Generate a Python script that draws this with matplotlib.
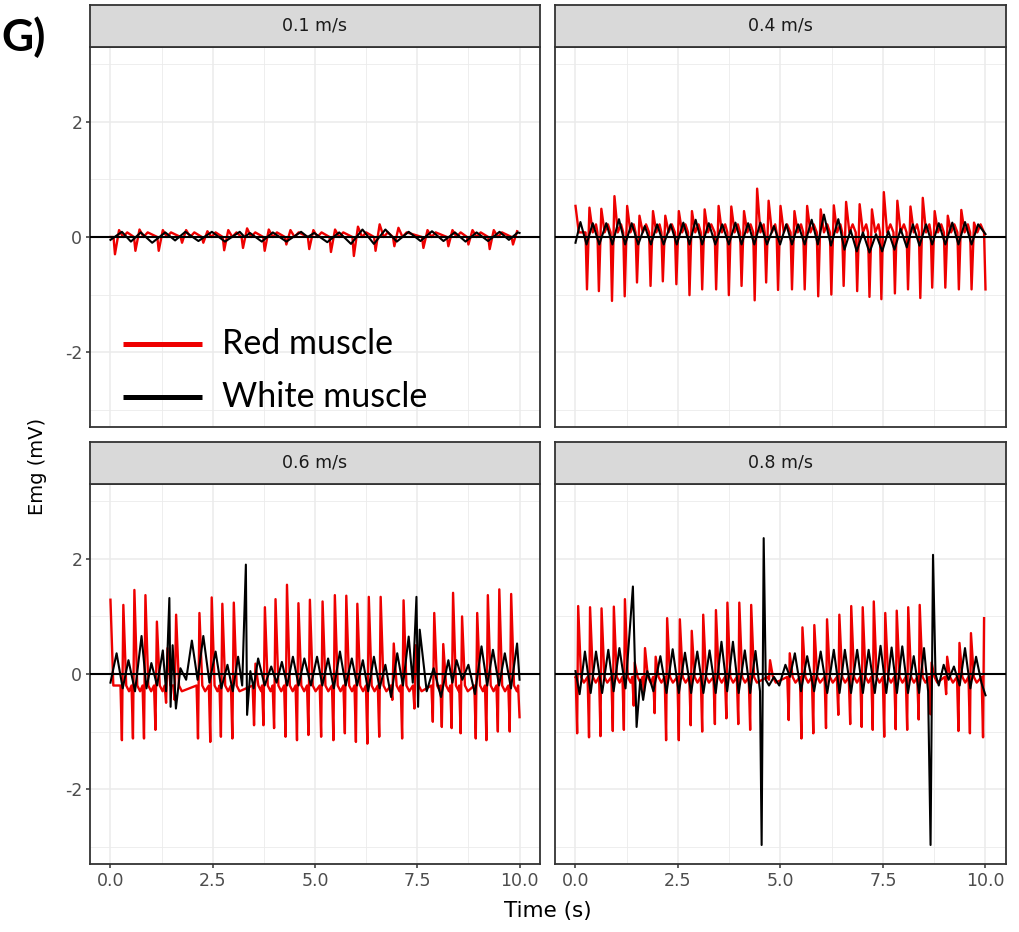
import numpy as np
import matplotlib
matplotlib.use("Agg")
import matplotlib.pyplot as plt
from matplotlib.lines import Line2D
from matplotlib.ticker import FixedLocator

# ---------------------------------------------------------------- data ----
speeds = ["0.1 m/s", "0.4 m/s", "0.6 m/s", "0.8 m/s"]
series_labels = ["Red muscle", "White muscle"]
series_colors = ["#EE0000", "#000000"]
x_ticks = [0.0, 2.5, 5.0, 7.5, 10.0]
x_tick_labels = ["0.0", "2.5", "5.0", "7.5", "10.0"]
y_ticks = [-2, 0, 2]
y_tick_labels = ["-2", "0", "2"]

# Red muscle: burst onset times (s), burst minimum and maximum (mV)
red_01_t = [0.11, 0.61, 1.18, 1.75, 2.27, 2.78, 3.24, 3.77, 4.30, 4.86,
            5.39, 5.95, 6.48, 6.94, 7.65, 8.26, 8.75, 9.27, 9.84]
red_01_lo = [-0.30, -0.24, -0.24, -0.10, -0.10, -0.23, -0.19, -0.24, -0.13, -0.21,
             -0.26, -0.33, -0.24, -0.16, -0.19, -0.16, -0.13, -0.21, -0.13]
red_01_hi = [0.12, 0.13, 0.12, 0.12, 0.10, 0.12, 0.15, 0.13, 0.12, 0.12,
             0.13, 0.18, 0.22, 0.16, 0.12, 0.12, 0.12, 0.12, 0.10]

red_04_t = [0.28, 0.57, 0.89, 1.20, 1.50, 1.83, 2.13, 2.46, 2.78, 3.09,
            3.43, 3.74, 4.05, 4.37, 4.65, 4.94, 5.28, 5.59, 5.92, 6.24,
            6.54, 6.87, 7.17, 7.46, 7.79, 8.11, 8.41, 8.70, 9.02, 9.35, 9.66]
red_04_lo = [-0.91, -0.94, -1.11, -1.03, -0.79, -0.85, -0.77, -0.82, -1.01, -0.91,
             -0.91, -1.01, -0.85, -1.10, -0.79, -0.92, -0.91, -0.91, -1.03, -1.00,
             -0.85, -0.94, -1.04, -1.08, -0.98, -0.91, -1.06, -0.88, -0.88, -0.91, -0.91]
red_04_hi = [0.51, 0.49, 0.71, 0.54, 0.37, 0.45, 0.37, 0.45, 0.45, 0.48,
             0.54, 0.53, 0.45, 0.84, 0.63, 0.54, 0.45, 0.54, 0.48, 0.55,
             0.61, 0.57, 0.48, 0.78, 0.63, 0.53, 0.68, 0.45, 0.37, 0.47, 0.25]

red_06_t = [0.28, 0.55, 0.82, 1.10, 1.36, 1.57, 2.14, 2.44, 2.70, 2.98,
            3.51, 3.74, 4.00, 4.28, 4.56, 4.84, 5.15, 5.45, 5.73, 6.00,
            6.28, 6.57, 6.89, 7.13, 7.43, 7.88, 8.10, 8.34, 8.56, 8.93,
            9.19, 9.47, 9.76]
red_06_lo = [-1.15, -1.12, -1.12, -0.97, -0.50, -0.45, -1.12, -1.18, -1.09, -1.12,
             -0.89, -0.89, -0.94, -1.09, -1.15, -1.06, -1.09, -1.15, -1.03, -1.18,
             -1.21, -1.09, -0.45, -1.12, -0.60, -0.83, -0.92, -0.94, -1.03, -1.12,
             -1.15, -1.00, -1.00]
red_06_hi = [1.20, 1.46, 1.37, 0.91, 0.45, 1.03, 1.06, 1.33, 1.22, 1.24,
             0.18, 1.16, 1.30, 1.55, 1.23, 1.29, 1.26, 1.37, 1.36, 1.22,
             1.34, 1.34, 0.53, 1.28, 0.50, 1.06, 0.52, 1.41, 1.00, 1.06,
             1.37, 1.47, 1.39]

red_08_t = [0.04, 0.33, 0.61, 0.91, 1.18, 1.42, 1.67, 1.93, 2.21, 2.52,
            2.81, 3.09, 3.40, 3.68, 3.97, 4.26, 4.72, 5.20, 5.51, 5.80,
            6.11, 6.41, 6.70, 6.98, 7.25, 7.53, 7.81, 8.09, 8.37, 8.66,
            9.04, 9.34, 9.62, 9.94]
red_08_lo = [-1.03, -1.10, -1.08, -0.99, -0.97, -0.55, -0.30, -0.68, -1.15, -1.15,
             -0.89, -1.00, -0.87, -0.77, -0.87, -0.97, -0.10, -0.80, -1.12, -1.03,
             -0.94, -0.71, -0.87, -0.92, -0.97, -1.09, -0.96, -0.97, -0.79, -0.70,
             -0.35, -0.99, -1.03, -1.10]
red_08_hi = [1.18, 1.16, 1.14, 1.17, 1.30, 0.20, 0.45, 0.30, 0.97, 0.95,
             0.75, 1.03, 1.11, 1.24, 1.24, 1.20, 0.24, 0.36, 0.81, 0.85,
             0.95, 1.03, 1.18, 1.16, 1.26, 1.06, 1.10, 1.16, 1.20, 0.20,
             0.30, 0.54, 0.71, 0.97]

# Red muscle: value at start / end of record and resting levels between bursts (mV)
red_start = [0.00, 0.54, 1.29, -0.05]
red_end = [None, -0.91, -0.75, None]
red_base = [0.00, 0.08, -0.20, -0.05]
red_ripple = [0.08, 0.22, -0.30, -0.15]

# White muscle: turning points of the trace (time s, value mV)
white_01_t = [0.00, 0.28, 0.50, 0.74, 1.02, 1.34, 1.58, 1.83, 2.15, 2.48,
              2.80, 3.16, 3.28, 3.41, 3.70, 3.97, 4.30, 4.66, 4.82, 4.98,
              5.30, 5.59, 5.88, 6.16, 6.44, 6.72, 7.00, 7.29, 7.58, 7.86,
              8.14, 8.42, 8.68, 8.95, 9.23, 9.51, 9.74, 9.96, 10.00]
white_01_v = [-0.05, 0.09, -0.08, 0.08, -0.10, 0.08, -0.06, 0.09, -0.07, 0.09,
              -0.08, 0.09, 0.00, 0.07, -0.08, 0.08, -0.08, 0.09, 0.00, 0.07,
              -0.09, 0.08, -0.12, 0.13, -0.12, 0.13, -0.08, 0.09, -0.07, 0.10,
              -0.07, 0.08, -0.08, 0.08, -0.07, 0.09, -0.05, 0.08, 0.07]

white_04_t = [0.00, 0.12, 0.27, 0.42, 0.58, 0.75, 0.90, 1.06, 1.21, 1.37,
              1.53, 1.69, 1.84, 1.99, 2.15, 2.32, 2.47, 2.63, 2.78, 2.93,
              3.09, 3.25, 3.41, 3.58, 3.74, 3.90, 4.05, 4.21, 4.36, 4.51,
              4.67, 4.84, 4.99, 5.14, 5.28, 5.43, 5.59, 5.76, 5.91, 6.06,
              6.23, 6.41, 6.56, 6.71, 6.86, 7.01, 7.17, 7.33, 7.48, 7.63,
              7.78, 7.93, 8.08, 8.23, 8.39, 8.55, 8.70, 8.86, 9.02, 9.19,
              9.34, 9.50, 9.66, 9.82, 10.00]
white_04_v = [-0.10, 0.26, -0.13, 0.24, -0.13, 0.24, -0.13, 0.31, -0.13, 0.24,
              -0.13, 0.19, -0.13, 0.22, -0.13, 0.22, -0.13, 0.25, -0.13, 0.30,
              -0.13, 0.24, -0.13, 0.22, -0.13, 0.25, -0.13, 0.24, -0.13, 0.25,
              -0.13, 0.19, -0.13, 0.22, -0.13, 0.22, -0.13, 0.30, -0.13, 0.39,
              -0.15, 0.31, -0.22, 0.12, -0.25, 0.08, -0.27, 0.05, -0.25, 0.10,
              -0.22, 0.14, -0.18, 0.22, -0.15, 0.22, -0.13, 0.24, -0.13, 0.25,
              -0.13, 0.26, -0.13, 0.22, 0.05]

white_06_t = [0.00, 0.15, 0.30, 0.44, 0.60, 0.76, 0.88, 1.00, 1.14, 1.28,
              1.36, 1.44, 1.47, 1.52, 1.60, 1.71, 1.85, 1.99, 2.13, 2.27,
              2.42, 2.57, 2.71, 2.86, 2.99, 3.12, 3.22, 3.31, 3.34, 3.42,
              3.50, 3.61, 3.77, 3.93, 4.06, 4.19, 4.32, 4.46, 4.60, 4.74,
              4.90, 5.05, 5.18, 5.32, 5.46, 5.61, 5.75, 5.90, 6.03, 6.17,
              6.30, 6.44, 6.58, 6.72, 6.86, 7.01, 7.15, 7.29, 7.39, 7.48,
              7.52, 7.56, 7.73, 7.90, 8.08, 8.26, 8.36, 8.46, 8.60, 8.75,
              8.91, 9.07, 9.21, 9.35, 9.50, 9.64, 9.79, 9.94, 10.00]
white_06_v = [-0.15, 0.36, -0.25, 0.24, -0.30, 0.66, -0.25, 0.19, -0.20, 0.41,
              -0.30, 1.32, -0.57, 0.50, -0.60, 0.10, -0.10, 0.58, -0.10, 0.66,
              -0.15, 0.39, -0.25, 0.16, -0.30, 0.30, -0.20, 1.90, -0.71, 0.05,
              -0.25, 0.27, -0.20, 0.13, -0.15, 0.21, -0.20, 0.30, -0.20, 0.27,
              -0.20, 0.30, -0.20, 0.27, -0.25, 0.39, -0.20, 0.27, -0.20, 0.24,
              -0.30, 0.30, -0.25, 0.16, -0.40, 0.36, -0.20, 0.65, -0.15, 1.34,
              -0.57, 0.77, -0.30, 0.10, -0.40, 0.24, -0.15, 0.24, -0.10, 0.16,
              -0.35, 0.48, -0.20, 0.42, -0.20, 0.36, -0.25, 0.53, -0.10]

white_08_t = [0.00, 0.10, 0.23, 0.37, 0.50, 0.65, 0.80, 0.93, 1.07, 1.22,
              1.40, 1.49, 1.58, 1.65, 1.75, 1.90, 2.07, 2.22, 2.37, 2.52,
              2.67, 2.82, 2.97, 3.12, 3.27, 3.42, 3.56, 3.70, 3.84, 3.98,
              4.13, 4.26, 4.39, 4.50, 4.54, 4.59, 4.64, 4.72, 4.84, 4.97,
              5.12, 5.23, 5.35, 5.50, 5.65, 5.82, 5.98, 6.14, 6.30, 6.44,
              6.57, 6.72, 6.87, 7.01, 7.15, 7.30, 7.44, 7.58, 7.71, 7.84,
              7.97, 8.11, 8.25, 8.38, 8.50, 8.60, 8.66, 8.72, 8.78, 8.86,
              8.98, 9.10, 9.23, 9.37, 9.50, 9.63, 9.77, 9.90, 10.00]
white_08_v = [0.05, -0.35, 0.39, -0.33, 0.39, -0.33, 0.42, -0.30, 0.45, -0.25,
              1.52, -0.92, -0.10, -0.45, 0.05, -0.30, 0.31, -0.33, 0.43, -0.33,
              0.37, -0.33, 0.39, -0.33, 0.41, -0.33, 0.56, -0.30, 0.56, -0.33,
              0.41, -0.33, 0.40, -0.30, -2.97, 2.36, -0.10, -0.20, -0.05, -0.20,
              0.16, -0.05, 0.36, -0.30, 0.31, -0.30, 0.39, -0.33, 0.42, -0.33,
              0.42, -0.33, 0.42, -0.33, 0.42, -0.33, 0.49, -0.33, 0.46, -0.33,
              0.48, -0.33, 0.31, -0.33, 0.45, -0.30, -2.97, 2.07, 0.00, -0.20,
              0.16, -0.10, 0.13, -0.20, 0.45, -0.25, 0.30, -0.15, -0.37]

red_t = [red_01_t, red_04_t, red_06_t, red_08_t]
red_lo = [red_01_lo, red_04_lo, red_06_lo, red_08_lo]
red_hi = [red_01_hi, red_04_hi, red_06_hi, red_08_hi]
white_t = [white_01_t, white_04_t, white_06_t, white_08_t]
white_v = [white_01_v, white_04_v, white_06_v, white_08_v]

# burst waveform timing per panel (s): lead-in, rise to maximum, decay
burst_pre = 0.035
burst_rise = [0.10, 0.06, 0.035, 0.025]
burst_fall = [0.10, 0.08, 0.07, 0.07]


def red_trace(k):
    """Polyline of the red-muscle record of panel k built from its bursts."""
    ts, vs = [0.0], [red_start[k]]
    onsets = red_t[k]
    rise, fall = burst_rise[k], burst_fall[k]
    if fall < onsets[0] - burst_pre:
        ts.append(fall)
        vs.append(red_base[k])
    for i, (t, lo, hi) in enumerate(zip(onsets, red_lo[k], red_hi[k])):
        nxt = onsets[i + 1] - burst_pre if i + 1 < len(onsets) else 10.0
        seg_t = [t - burst_pre, t, t + rise, t + rise + fall, t + rise + 2 * fall]
        seg_v = [red_base[k], lo, hi, red_base[k], red_ripple[k]]
        for j, (st, sv) in enumerate(zip(seg_t, seg_v)):
            if st <= ts[-1] or st > 10.0:
                continue
            if j >= 3 and st >= nxt:
                continue
            ts.append(st)
            vs.append(sv)
    if red_end[k] is not None:
        if 10.0 - burst_pre > ts[-1]:
            ts.append(10.0 - burst_pre)
            vs.append(red_base[k])
        ts.append(10.0)
        vs.append(red_end[k])
    return np.array(ts), np.array(vs)


# -------------------------------------------------------------- figure ----
plt.rcParams["font.family"] = ["DejaVu Sans"]
plt.rcParams["axes.unicode_minus"] = False

W, H = 1020, 932
fig = plt.figure(figsize=(W / 100, H / 100), dpi=100)
fig.patch.set_facecolor("white")


def box(x0, y0, x1, y1):
    return [x0 / W, 1 - y1 / H, (x1 - x0) / W, (y1 - y0) / H]


cols = [(90, 540), (555, 1006)]
rows = [((5, 47), (47, 427)), ((442, 484), (484, 864))]
frame_col = "#333333"

for k, label in enumerate(speeds):
    r, c = divmod(k, 2)
    (sx0, sx1) = cols[c]
    (st0, st1), (py0, py1) = rows[r]

    ax = fig.add_axes(box(sx0, py0, sx1, py1))
    ax.set_xlim(-0.5, 10.5)
    ax.set_ylim(-3.3, 3.3)
    ax.xaxis.set_major_locator(FixedLocator(x_ticks))
    ax.xaxis.set_minor_locator(FixedLocator([1.25, 3.75, 6.25, 8.75]))
    ax.yaxis.set_major_locator(FixedLocator(y_ticks))
    ax.yaxis.set_minor_locator(FixedLocator([-3, -1, 1, 3]))
    ax.grid(which="major", color="#EBEBEB", lw=1.1)
    ax.grid(which="minor", color="#EBEBEB", lw=0.6)
    ax.set_axisbelow(True)
    for sp in ax.spines.values():
        sp.set_color(frame_col)
        sp.set_linewidth(1.3)
    ax.tick_params(which="minor", length=0)
    ax.tick_params(which="major", length=3.0, width=1.1, color=frame_col,
                   labelsize=12.5, labelcolor="#4D4D4D", pad=2.5)
    if r == 1:
        ax.set_xticklabels(x_tick_labels)
    else:
        ax.tick_params(axis="x", length=0, labelbottom=False)
    if c == 0:
        ax.set_yticklabels(y_tick_labels)
    else:
        ax.tick_params(axis="y", length=0, labelleft=False)

    rt, rv = red_trace(k)
    ax.plot(rt, rv, color=series_colors[0], lw=1.7, solid_joinstyle="round", zorder=3)
    ax.plot(white_t[k], white_v[k], color=series_colors[1], lw=1.5,
            solid_joinstyle="round", zorder=4)
    ax.axhline(0, color="black", lw=1.5, zorder=5)

    # facet strip
    sax = fig.add_axes(box(sx0, st0, sx1, st1))
    sax.set_facecolor("#D9D9D9")
    sax.set_xticks([])
    sax.set_yticks([])
    for sp in sax.spines.values():
        sp.set_color(frame_col)
        sp.set_linewidth(1.3)
    sax.text(0.5, 0.5, label, ha="center", va="center", fontsize=12.5,
             color="#1A1A1A", transform=sax.transAxes)

# axis titles
fig.text(548 / W, 1 - 911 / H, "Time (s)", ha="center", va="center", fontsize=15.5)
fig.text(38 / W, 1 - 466 / H, "Emg (mV)", ha="center", va="center",
         rotation=90, fontsize=14)

# panel letter
fig.text(1 / W, 1 - 37 / H, "G)", ha="left", va="center", fontsize=32,
         fontweight="bold", family=["Lato", "DejaVu Sans"])

# legend keys
for i, (lab, col) in enumerate(zip(series_labels, series_colors)):
    yk = 344 + 53 * i
    fig.add_artist(Line2D([123 / W, 202 / W], [1 - yk / H, 1 - yk / H],
                          color=col, lw=3.6, solid_capstyle="butt"))
    fig.text(222 / W, 1 - (yk + 10) / H, lab, ha="left", va="baseline",
             fontsize=24.5, family=["Lato", "DejaVu Sans"], color="black")

fig.savefig("out.png", dpi=100)
